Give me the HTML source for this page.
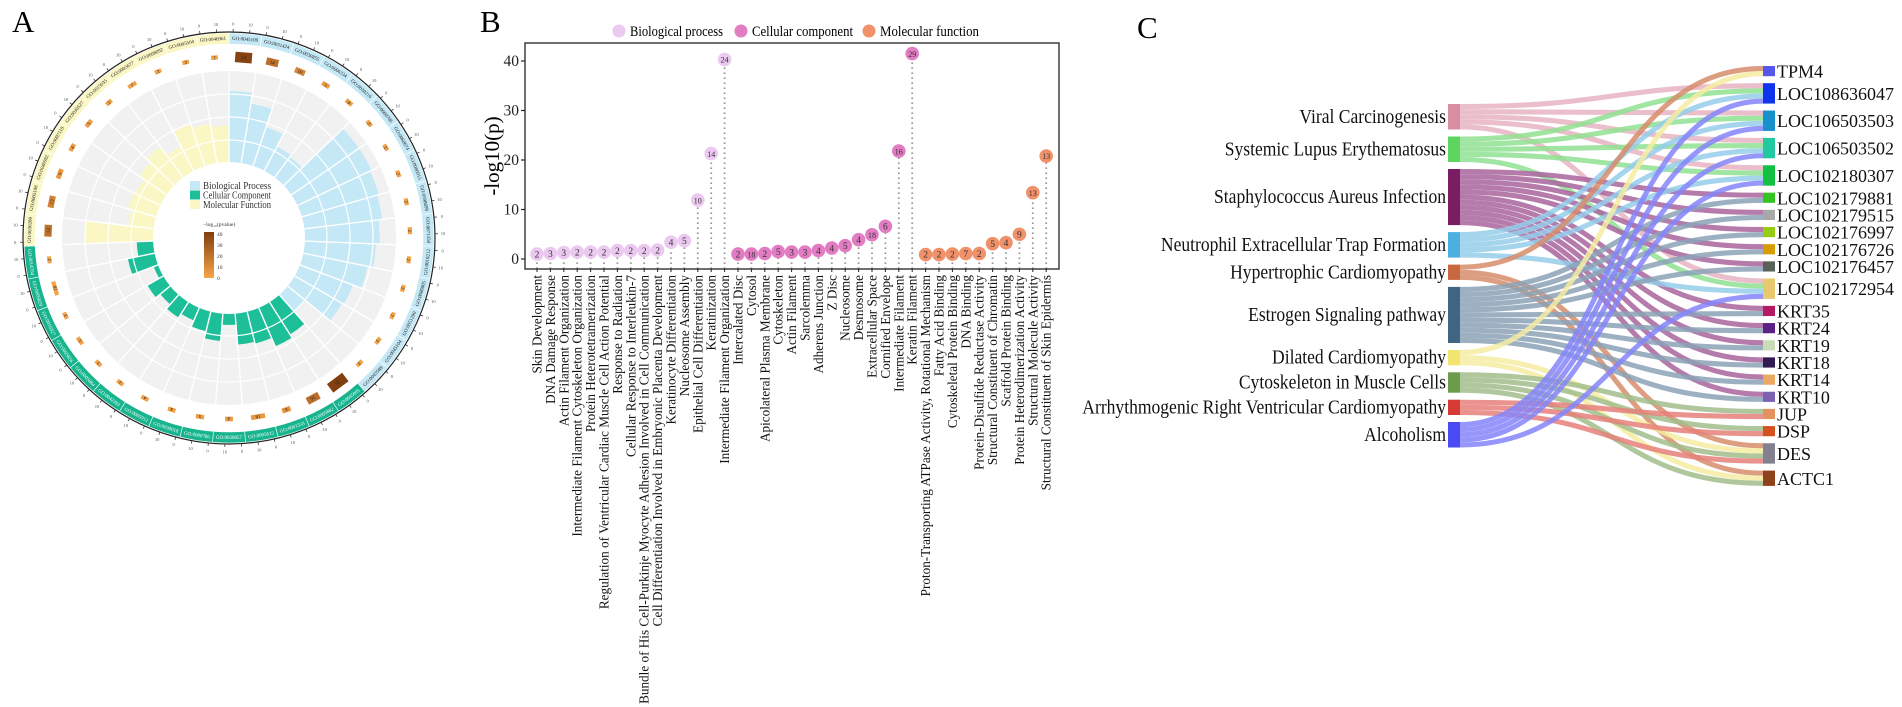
<!DOCTYPE html>
<html><head><meta charset="utf-8"><title>GO enrichment figure</title>
<style>
html,body{margin:0;padding:0;background:#fff;}
svg{display:block;font-family:"Liberation Serif","DejaVu Serif",serif;}
</style></head>
<body>
<svg id="fig" width="1902" height="707" viewBox="0 0 1902 707" xmlns="http://www.w3.org/2000/svg">
  <text x="12" y="32" font-size="31">A</text>
  <text x="480" y="32" font-size="31">B</text>
  <text x="1137" y="38" font-size="31">C</text>
  <g id="panelA"></g>
  <g id="panelB"></g>
  <g id="panelC"></g>
</svg>
<script>
// ---------------- Panel B data ----------------
const bTerms = ["Skin Development","DNA Damage Response","Actin Filament Organization","Intermediate Filament Cytoskeleton Organization","Protein Heterotetramerization","Regulation of Ventricular Cardiac Muscle Cell Action Potential","Response to Radiation","Cellular Response to Interleukin-7","Bundle of His Cell-Purkinje Myocyte Adhesion Involved in Cell Communication","Cell Differentiation Involved in Embryonic Placenta Development","Keratinocyte Differentiation","Nucleosome Assembly","Epithelial Cell Differentiation","Keratinization","Intermediate Filament Organization",
"Intercalated Disc","Cytosol","Apicolateral Plasma Membrane","Cytoskeleton","Actin Filament","Sarcolemma","Adherens Junction","Z Disc","Nucleosome","Desmosome","Extracellular Space","Cornified Envelope","Intermediate Filament","Keratin Filament",
"Proton-Transporting ATPase Activity, Rotational Mechanism","Fatty Acid Binding","Cytoskeletal Protein Binding","DNA Binding","Protein-Disulfide Reductase Activity","Structural Constituent of Chromatin","Scaffold Protein Binding","Protein Heterodimerization Activity","Structural Molecule Activity","Structural Constituent of Skin Epidermis"];
const bGroup = [0,0,0,0,0,0,0,0,0,0,0,0,0,0,0, 1,1,1,1,1,1,1,1,1,1,1,1,1,1, 2,2,2,2,2,2,2,2,2,2];
const bLogp = [1.0,1.1,1.3,1.4,1.4,1.4,1.7,1.7,1.7,1.8,3.4,3.7,11.9,21.3,40.3, 1.0,1.0,1.1,1.5,1.4,1.4,1.7,2.2,2.7,3.9,4.9,6.6,21.8,41.5, 0.9,0.9,1.0,1.1,1.1,3.1,3.3,5.0,13.4,20.8];
const bCount = [2,3,3,2,2,2,2,2,2,2,4,5,10,14,24, 2,18,2,5,3,3,4,4,5,4,18,6,16,29, 2,2,2,7,2,5,4,9,13,13];
const bYTicks = [0,10,20,30,40];
const bLegend = ["Biological process","Cellular component","Molecular function"];

// ---------------- Panel A data (clockwise from top) ----------------
const aIds = ["GO:0045109","GO:0031424","GO:0030855","GO:0006334","GO:0030216","GO:0060706","GO:0060674","GO:0086015","GO:0098698","GO:0071350","GO:0010212","GO:0086005","GO:0051290","GO:0045104","GO:0043588",
"GO:0045095","GO:0005882","GO:0001533","GO:0005615","GO:0030057","GO:0000786","GO:0030018","GO:0005912","GO:0042383","GO:0005884","GO:0005856","GO:0016327","GO:0005829","GO:0014704",
"GO:0030280","GO:0005198","GO:0046982","GO:0097110","GO:0030527","GO:0015035","GO:0003677","GO:0008092","GO:0005504","GO:0046961"];
const aGroup = [0,0,0,0,0,0,0,0,0,0,0,0,0,0,0, 1,1,1,1,1,1,1,1,1,1,1,1,1,1, 2,2,2,2,2,2,2,2,2,2];
const aCount = [24,14,10,5,4,2,2,2,2,2,2,2,2,3,3, 29,16,6,18,4,5,4,4,3,3,5,2,18,2, 13,13,9,4,5,2,7,2,2,2];
const aLogp = [40.3,21.3,11.9,3.7,3.4,1.8,1.7,1.7,1.7,1.4,1.4,1.4,1.3,1.1,1.0, 41.5,21.8,6.6,4.9,3.9,2.7,2.2,1.7,1.4,1.4,1.5,1.1,1.0,1.0, 20.8,13.4,5.0,3.3,3.1,1.1,1.1,1.0,0.9,0.9];
const aBar = [0.78,0.66,0.45,0.3,0.28,0.9,0.9,0.88,0.86,0.82,0.78,0.72,0.62,0.6,0.25, 0.42,0.46,0.36,0.34,0.12,0.3,0.22,0.15,0.2,0.14,0.2,0.05,0.3,0.18, 0.75,0.28,0.32,0.3,0.36,0.42,0.3,0.48,0.44,0.4];
const aLegend = ["Biological Process","Cellular Component","Molecular Function"];
const aScaleTicks = [0,10,20,30,40];

// ---------------- Panel C data ----------------
const cSources = ["Viral Carcinogenesis","Systemic Lupus Erythematosus","Staphylococcus Aureus Infection","Neutrophil Extracellular Trap Formation","Hypertrophic Cardiomyopathy","Estrogen Signaling pathway","Dilated Cardiomyopathy","Cytoskeleton in Muscle Cells","Arrhythmogenic Right Ventricular Cardiomyopathy","Alcoholism"];
const cTargets = ["TPM4","LOC108636047","LOC106503503","LOC106503502","LOC102180307","LOC102179881","LOC102179515","LOC102176997","LOC102176726","LOC102176457","LOC102172954","KRT35","KRT24","KRT19","KRT18","KRT14","KRT10","JUP","DSP","DES","ACTC1"];
const cLinks = [[0,1],[0,2],[0,3],[0,4],[0,10],[1,1],[1,2],[1,3],[1,4],[1,10],
[2,5],[2,6],[2,7],[2,8],[2,9],[2,11],[2,12],[2,13],[2,14],[2,15],[2,16],
[3,1],[3,2],[3,3],[3,4],[3,10],[4,0],[4,19],[4,20],
[5,5],[5,6],[5,7],[5,8],[5,9],[5,11],[5,12],[5,13],[5,14],[5,15],[5,16],
[6,0],[6,19],[6,20],[7,17],[7,18],[7,19],[7,20],[8,17],[8,18],[8,19],
[9,1],[9,2],[9,3],[9,4],[9,10]];

// ---------------- helpers ----------------
const NS = "http://www.w3.org/2000/svg";
function mk(tag, attrs, parent){ const e=document.createElementNS(NS,tag); for(const k in attrs) e.setAttribute(k,attrs[k]); if(parent) parent.appendChild(e); return e; }

// ================= Panel B =================
(function(){
  const g = document.getElementById('panelB');
  const L=525,T=43,R=1059,B=269, y0=259, pxPer=4.95, x0=537, dx=13.4;
  const ys = v => y0 - v*pxPer;
  const xs = i => x0 + i*dx;
  const fills = ["#ecc9f0","#e27cc3","#f09169"];
  const lx=[619,741,869], lw=[93,101,99];
  bLegend.forEach((t,i)=>{
    const c = mk('circle',{cx:lx[i],cy:31,r:6.5,fill:fills[i]},g);
    
    
    const tx = mk('text',{x:lx[i]+11,y:36,'font-size':15,textLength:lw[i],lengthAdjust:'spacingAndGlyphs'},g);
    tx.textContent=t;
    
    
  });
  bLogp.forEach((v,i)=>{
    const x=xs(i), y=ys(v);
    const s = mk('line',{x1:x,y1:B,x2:x,y2:y,stroke:'#9a9a9a','stroke-width':1.8,'stroke-dasharray':'1.6,3.4'},g);
    
    
  });
  const box = mk('rect',{x:L,y:T,width:R-L,height:B-T,fill:'none',stroke:'#222','stroke-width':1.3},g);
  
  
  bLogp.forEach((v,i)=>{
    const x=xs(i), y=ys(v);
    const c = mk('circle',{cx:x,cy:y,r:6.8,fill:fills[bGroup[i]]},g);
    
    
    const t = mk('text',{x:x,y:y+3.2,'font-size':bCount[i]>=10?8:9.5,'text-anchor':'middle',fill:'#333'},g);
    t.textContent=bCount[i];
    
    
    mk('line',{x1:x,y1:B,x2:x,y2:B+3,stroke:'#222','stroke-width':1},g);
    const lab = mk('text',{transform:`translate(${x+4.5},${B+6}) rotate(-90)`,'font-size':13.2,'text-anchor':'end',fill:'#111'},g);
    lab.textContent=bTerms[i];
    
    
  });
  bYTicks.forEach(v=>{
    const y=ys(v);
    mk('line',{x1:L-4,y1:y,x2:L,y2:y,stroke:'#222','stroke-width':1.2},g);
    const t=mk('text',{x:L-6,y:y+5,'font-size':15.5,'text-anchor':'end',fill:'#222'},g);
    t.textContent=v;
    
    
  });
  const yt = mk('text',{transform:'translate(499,156) rotate(-90)','font-size':21,'text-anchor':'middle'},g);
  yt.textContent='-log10(p)';
  
  
})();

// ================= Panel A =================
(function(){
  const g=document.getElementById('panelA');
  const cx=229, cy=238, rIn=76, rGray=167, rSq=181, rBand0=194, rBand1=205;
  const n=aIds.length, step=2*Math.PI/n;
  const pt=(r,a)=>[cx+r*Math.sin(a), cy-r*Math.cos(a)];
  function sector(r0,r1,a0,a1){
    const p0=pt(r1,a0),p1=pt(r1,a1),p2=pt(r0,a1),p3=pt(r0,a0); const lg=(a1-a0)>Math.PI?1:0;
    return `M${p0}A${r1},${r1} 0 ${lg} 1 ${p1}L${p2}A${r0},${r0} 0 ${lg} 0 ${p3}Z`;
  }
  const barCol=["#c4e8f6","#1dbf98","#fbf7c4"];
  const bandCol=["#c4e8f6","#17b48e","#fbf7c4"];
  mk('path',{d:sector(rIn,rGray,0,2*Math.PI-0.0001),fill:'#f1f1f1'},g);
  aBar.forEach((v,i)=>{
    const a0=i*step, a1=(i+1)*step;
    const p=mk('path',{d:sector(rIn,rIn+v*(rGray-rIn),a0,a1),fill:barCol[aGroup[i]]},g);
    
    
  });
  [98,121,144].forEach(r=>mk('circle',{cx,cy,r,fill:'none',stroke:'#fff','stroke-width':1.2},g));
  for(let i=0;i<n;i++){ const p0=pt(rIn,i*step),p1=pt(rGray,i*step); mk('line',{x1:p0[0],y1:p0[1],x2:p1[0],y2:p1[1],stroke:'#fff','stroke-width':1.4},g); }
  function col(v){ const t=Math.min(1,v/42); const c0=[247,165,72], c1=[130,62,15];
    return `rgb(${c0.map((c,k)=>Math.round(c+(c1[k]-c)*t)).join(',')})`; }
  aCount.forEach((c,i)=>{
    const a=(i+0.5)*step, p=pt(rSq,a), w=6+c*0.45, h=4+aLogp[i]*0.16;
    const r=mk('rect',{x:-w/2,y:-h/2,width:w,height:h,fill:col(aLogp[i]),transform:`translate(${p[0]},${p[1]}) rotate(${a*180/Math.PI})`},g);
    
    
    const t=mk('text',{x:0,y:1.8,'font-size':5,'text-anchor':'middle',fill:'#222',transform:`translate(${p[0]},${p[1]}) rotate(${a*180/Math.PI})`},g);
    t.textContent=c;
  });
  aIds.forEach((id,i)=>{
    const a0=i*step,a1=(i+1)*step;
    mk('path',{d:sector(rBand0,rBand1,a0,a1),fill:bandCol[aGroup[i]],stroke:'#fff','stroke-width':0.6},g);
    const a=(i+0.5)*step, p=pt((rBand0+rBand1)/2,a);
    let deg=a*180/Math.PI; if(deg>90&&deg<270) deg+=180;
    const t=mk('text',{x:0,y:1.6,'font-size':5,'text-anchor':'middle',fill:aGroup[i]==1?'#fff':'#222',transform:`translate(${p[0]},${p[1]}) rotate(${deg})`},g);
    t.textContent=id;
    
    
  });
  mk('circle',{cx,cy,r:rBand1+1,fill:'none',stroke:'#222','stroke-width':1.2},g);
  for(let i=0;i<n;i++){
    [0,0.5].forEach((f,k)=>{
      const a=(i+f)*step+0.02, p0=pt(rBand1+1,a), p1=pt(rBand1+4,a);
      mk('line',{x1:p0[0],y1:p0[1],x2:p1[0],y2:p1[1],stroke:'#222','stroke-width':0.7},g);
      const q=pt(rBand1+9,a);
      const t=mk('text',{x:q[0],y:q[1]+1.5,'font-size':4.5,'text-anchor':'middle',fill:'#555'},g);
      t.textContent=k?'10':'0';
    });
  }
  aLegend.forEach((t,i)=>{
    mk('rect',{x:190,y:181+i*9.5,width:10,height:9,fill:barCol[i]},g);
    const tx=mk('text',{x:203,y:189+i*9.5,'font-size':10.5,fill:'#333',textLength:68,lengthAdjust:'spacingAndGlyphs'},g);
    tx.textContent=t;
    
    
  });
  const lt=mk('text',{x:203,y:226,'font-size':5.5,fill:'#333'},g); lt.textContent='\u2212log\u2081\u2080(pvalue)';
  const gr=mk('linearGradient',{id:'cbar',x1:0,y1:1,x2:0,y2:0},g);
  mk('stop',{offset:0,'stop-color':'#f7a548'},gr); mk('stop',{offset:1,'stop-color':'#823e0f'},gr);
  mk('rect',{x:204,y:232,width:10,height:46,fill:'url(#cbar)'},g);
  aScaleTicks.forEach((v,k)=>{ const y=278-k*11; const t=mk('text',{x:217,y:y+2,'font-size':5.5,fill:'#333'},g); t.textContent=v; });
})();

// ================= Panel C =================
(function(){
  const g=document.getElementById('panelC');
  const u=5.1, gL=7, gR=6.97, xL0=1448, xL1=1460, xR0=1763, xR1=1775;
  const srcNode=["#d98da0","#5fd561","#7b1d62","#4daee0","#c9683f","#3e6584","#f1e46f","#6b9c4c","#d63a33","#4a4af4"];
  const srcLink=["#e6b4c2","#90e092","#a8649c","#95cdea","#d68c6b","#8ba2b6","#f5eca2","#a2bd8c","#e6807a","#8585fa"];
  const tgtNode=["#5656ee","#1034ee","#1890cc","#22c8a0","#12c142","#32c422","#a8a8a8","#95cd10","#d69c00","#586258","#e9c96f","#b41b62","#5b2184","#c8dcb6","#321a52","#e9a962","#7d62b2","#e2935f","#d4521f","#83808f","#8f421b"];
  const sc=cSources.map(()=>0), tc=cTargets.map(()=>0);
  cLinks.forEach(([s,t])=>{sc[s]++;tc[t]++;});
  let y=104; const sy=[]; sc.forEach((c,i)=>{sy.push(y); y+=c*u+gL;});
  y=66; const ty=[]; tc.forEach((c,i)=>{ty.push(y); y+=c*u+gR;});
  const so=sy.slice(), to=ty.slice();
  const bySrc=cLinks.map((l,i)=>i).sort((a,b)=>cLinks[a][0]-cLinks[b][0]||cLinks[a][1]-cLinks[b][1]);
  const byTgt=cLinks.map((l,i)=>i).sort((a,b)=>cLinks[a][1]-cLinks[b][1]||cLinks[a][0]-cLinks[b][0]);
  const yS=[],yT=[];
  bySrc.forEach(i=>{const s=cLinks[i][0]; yS[i]=so[s]+u/2; so[s]+=u;});
  byTgt.forEach(i=>{const t=cLinks[i][1]; yT[i]=to[t]+u/2; to[t]+=u;});
  const xm=(xL1+xR0)/2;
  cLinks.forEach(([s,t],i)=>{
    const p=mk('path',{d:`M${xL1},${yS[i]}C${xm},${yS[i]} ${xm},${yT[i]} ${xR0},${yT[i]}`,fill:'none',stroke:srcLink[s],'stroke-width':u,'stroke-opacity':0.85},g);
    
    
  });
  cSources.forEach((n,i)=>{
    const r=mk('rect',{x:xL0,y:sy[i],width:xL1-xL0,height:sc[i]*u,fill:srcNode[i]},g);
    
    
    const t=mk('text',{transform:`translate(${xL0-2},${sy[i]+sc[i]*u/2+6}) scale(0.9,1)`,'font-size':19.5,'text-anchor':'end',fill:'#111'},g);
    t.textContent=n;
    
    
  });
  cTargets.forEach((n,i)=>{
    const r=mk('rect',{x:xR0,y:ty[i],width:xR1-xR0,height:tc[i]*u,fill:tgtNode[i]},g);
    
    
    const t=mk('text',{x:xR1+2,y:ty[i]+tc[i]*u/2+6.5,'font-size':18,fill:'#111'},g);
    t.textContent=n;
    
    
  });
})();
</script>
</body></html>
